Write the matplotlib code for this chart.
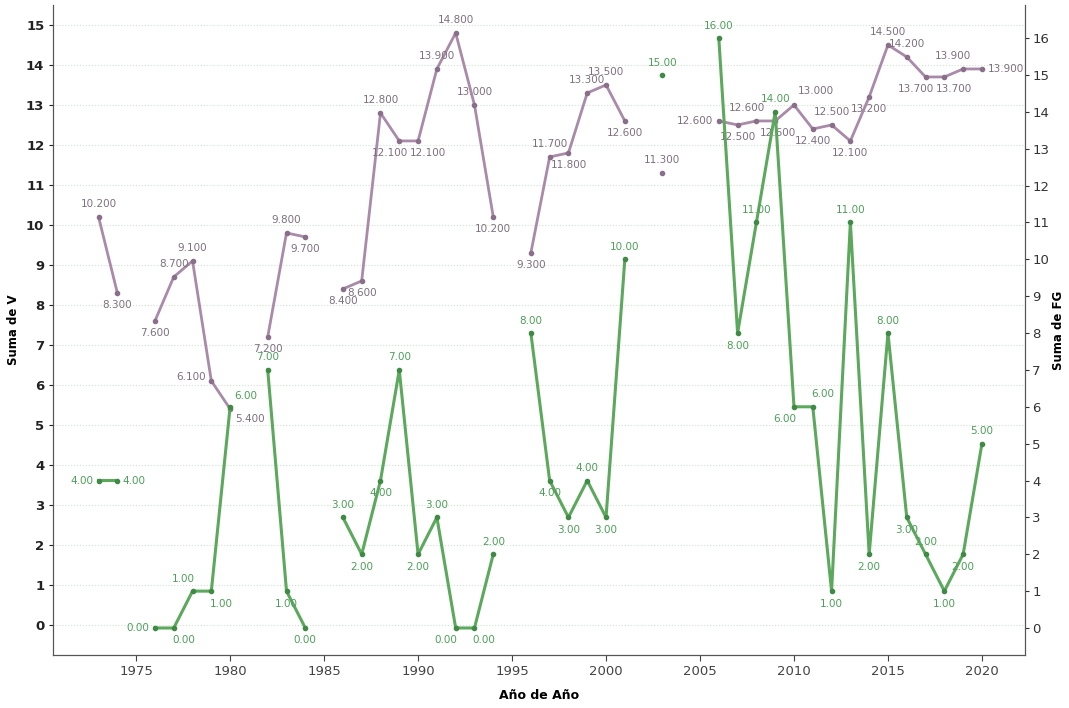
import numpy as np
import matplotlib
matplotlib.use('Agg')
import matplotlib.pyplot as plt

nan = np.nan

# data (gaps = missing years)
years = list(range(1973, 2021))
v_vals = [10.2, 8.3, nan, 7.6, 8.7, 9.1, 6.1, 5.4, nan, 7.2, 9.8, 9.7, nan,
          8.4, 8.6, 12.8, 12.1, 12.1, 13.9, 14.8, 13.0, 10.2, nan,
          9.3, 11.7, 11.8, 13.3, 13.5, 12.6, nan, 11.3, nan, nan,
          12.6, 12.5, 12.6, 12.6, 13.0, 12.4, 12.5, 12.1, 13.2, 14.5,
          14.2, 13.7, 13.7, 13.9, 13.9]
fg_vals = [4, 4, nan, 0, 0, 1, 1, 6, nan, 7, 1, 0, nan,
           3, 2, 4, 7, 2, 3, 0, 0, 2, nan,
           8, 4, 3, 4, 3, 10, nan, 15, nan, nan,
           16, 8, 11, 14, 6, 6, 1, 11, 2, 8,
           3, 2, 1, 2, 5]

plt.rcParams["font.family"] = ["DejaVu Sans"]
purple = '#a98aa8'
green = '#5ca85c'

fig = plt.figure(figsize=(10.69, 7.08), dpi=100)
ax = fig.add_axes([0.05, 0.075, 0.909, 0.918])
ax2 = ax.twinx()

x = np.array(years, dtype=float)
v = np.array(v_vals, dtype=float)
fg = np.array(fg_vals, dtype=float)

ax.plot(x, v, color=purple, lw=2, marker='o', ms=3, mfc='#8a6f8a', mec='#8a6f8a', zorder=3)
ax2.plot(x, fg, color=green, lw=2.2, marker='o', ms=3, mfc='#3f8a44', mec='#3f8a44', zorder=3)

# a few labels sit beside the point instead of above/below (crowded spots)
v_side = {1979: (-4, 3, 'right'), 1980: (4, -7, 'left'),
          2006: (-4, 0, 'right'), 2009: (2, -9, 'center'), 2010: (3, 10, 'left')}
fg_side = {1980: (3, 8, 'left')}


def label_offset(arr, i):
    prev = arr[i - 1] if i > 0 and not np.isnan(arr[i - 1]) else None
    nxt = arr[i + 1] if i < len(arr) - 1 and not np.isnan(arr[i + 1]) else None
    # flat ends of a segment: put the label to the side
    if prev is None and nxt is not None and nxt == arr[i]:
        return (-4, 0, 'right')
    if nxt is None and prev is not None and prev == arr[i]:
        return (4, 0, 'left')
    dx = 0
    if nxt is not None and nxt == arr[i]:
        dx = -7
    elif prev is not None and prev == arr[i]:
        dx = 7
    nb = [n for n in (prev, nxt) if n is not None]
    if not nb or arr[i] >= np.mean(nb):
        return (dx, 9, 'center')
    return (dx, -9, 'center')


for i, (xx, yy) in enumerate(zip(x, v)):
    if np.isnan(yy):
        continue
    dx, dy, ha = v_side.get(years[i], label_offset(v, i))
    ax.annotate(f'{yy:.3f}', (xx, yy), xytext=(dx, dy), textcoords='offset points',
                ha=ha, va='center', fontsize=7.5, color='#7d707d', zorder=4)

for i, (xx, yy) in enumerate(zip(x, fg)):
    if np.isnan(yy):
        continue
    dx, dy, ha = fg_side.get(years[i], label_offset(fg, i))
    ax2.annotate(f'{yy:.2f}', (xx, yy), xytext=(dx, dy), textcoords='offset points',
                 ha=ha, va='center', fontsize=7.5, color='#4e9e5a', zorder=4)

ax.set_xlim(1970.6, 2022.3)
ax.set_ylim(-0.75, 15.5)
ax2.set_ylim(-0.73, 16.9)
ax.set_yticks(range(0, 16))
ax2.set_yticks(range(0, 17))
ax.set_xticks(range(1975, 2021, 5))

ax.grid(axis='y', color='#cfe3cf', ls=':', lw=0.8)
ax.set_axisbelow(True)

for a in (ax, ax2):
    a.spines['top'].set_visible(False)
    a.spines['left'].set_color('#555555')
    a.spines['right'].set_color('#555555')
    a.spines['bottom'].set_color('#555555')
    a.spines['bottom'].set_linestyle((0, (2, 1)))
ax.tick_params(axis='y', labelsize=9.5, length=3, colors='#222222')
ax2.tick_params(axis='y', labelsize=9.5, length=3, pad=2, colors='#333333')
ax.tick_params(axis='x', labelsize=9.5, length=4, colors='#444444')
for t in ax.get_yticklabels():
    t.set_fontweight('bold')

ax.set_ylabel('Suma de V', fontsize=8.5, fontweight='bold', labelpad=4)
ax2.set_ylabel('Suma de FG', fontsize=8.5, fontweight='bold', labelpad=2, rotation=90)
ax.set_xlabel('Año de Año', fontsize=9, fontweight='bold', labelpad=8)

fig.savefig('out.png', dpi=100)
